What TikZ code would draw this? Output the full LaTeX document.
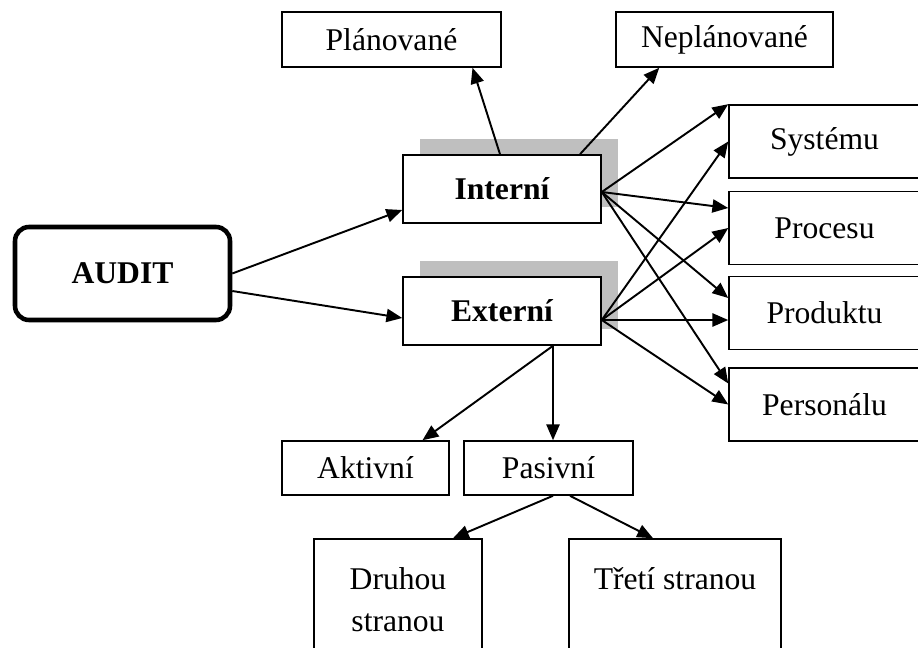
\documentclass[tikz,border=0pt]{standalone}
\usepackage{fontspec}
\setmainfont{Liberation Serif}
\usetikzlibrary{arrows.meta,positioning,calc,shadows}

\begin{document}
\begin{tikzpicture}[x=0.02cm, y=-0.02cm,
  every node/.style={font=\fontsize{18}{21.5}\selectfont},
  box/.style={draw, line width=0.9pt, fill=white, inner sep=0pt, align=center},
  mainbox/.style={box, rounded corners=0.28cm, line width=2.6pt,
                  minimum width=4.30cm, minimum height=1.86cm, font=\fontsize{18}{21.5}\selectfont\bfseries},
  typebox/.style={box, minimum width=3.96cm, minimum height=1.36cm, font=\fontsize{18}{21.5}\selectfont\bfseries,
                  drop shadow={shadow xshift=0.34cm, shadow yshift=0.32cm, fill=black!25, opacity=1}},
  topbox/.style={box, minimum height=1.10cm},
  areabox/.style={box, minimum width=4.02cm, minimum height=1.46cm},
  kindbox/.style={box, minimum height=1.08cm},
  partybox/.style={box, minimum height=2.42cm, font=\fontsize{18}{24}\selectfont},
  arrow/.style={-{Triangle[length=9pt, width=7.5pt]}, line width=1.1pt}
]
\clip (0,0) rectangle (918,648);

% main nodes
\node[mainbox] (audit) at (122.5,273.5) {AUDIT};
\node[typebox] (intern) at (502,189) {Interní};
\node[typebox] (extern) at (502,311) {Externí};

% planning
\node[topbox, minimum width=4.38cm] (plan) at (391.5,39.5) {Plánované};
\node[topbox, minimum width=4.34cm] (neplan) at (724.5,39.5) {Neplánované};

% areas
\node[areabox] (sys) at (829.5,141.5) {\hspace*{-0.2cm}Systému};
\node[areabox] (proc) at (829.5,228) {\hspace*{-0.2cm}Procesu};
\node[areabox] (prod) at (829.5,313) {\hspace*{-0.2cm}Produktu};
\node[areabox] (pers) at (829.5,404.5) {\hspace*{-0.2cm}Personálu};

% external kinds
\node[kindbox, minimum width=3.34cm] (akt) at (365.5,468) {Aktivní};
\node[kindbox, minimum width=3.38cm] (pas) at (548.5,468) {Pasivní};
\node[partybox, minimum width=3.36cm] (druh) at (398,599.5) {Druhou\\stranou};
\node[partybox, minimum width=4.24cm] (tret) at (675,599.5) {Třetí stranou\\\mbox{}};

\coordinate (io) at ($(intern.east)+(0,3)$);
\coordinate (eo) at ($(extern.east)+(0,9)$);

\draw[arrow] (audit.east) -- ($(intern.west)+(0,21)$);
\draw[arrow] ($(audit.east)+(0,17.5)$) -- ($(extern.west)+(0,7)$);

\draw[arrow] ($(intern.north)+(-2,0)$) -- ($(plan.south)+(81,0)$);
\draw[arrow] ($(intern.north)+(78,0)$) -- ($(neplan.south west)+(44,0)$);

\draw[arrow] (io) -- (sys.north west);
\draw[arrow] (io) -- ($(proc.west)+(0,-20)$);
\draw[arrow] (io) -- ($(prod.west)+(0,-15)$);
\draw[arrow] (io) -- ($(pers.west)+(0,-21)$);
\draw[arrow] (eo) -- (sys.west);
\draw[arrow] (eo) -- (proc.west);
\draw[arrow] (eo) -- ($(prod.west)+(0,7)$);
\draw[arrow] (eo) -- (pers.west);

\draw[arrow] ($(extern.south)+(51,0)$) -- ($(akt.north)+(57,0)$);
\draw[arrow] ($(extern.south)+(51,0)$) -- ($(pas.north)+(4.5,0)$);
\draw[arrow] ($(pas.south)+(4.5,0)$) -- ($(druh.north)+(55,0)$);
\draw[arrow] ($(pas.south)+(21.5,0)$) -- ($(tret.north)+(-22,0)$);
\end{tikzpicture}
\end{document}
